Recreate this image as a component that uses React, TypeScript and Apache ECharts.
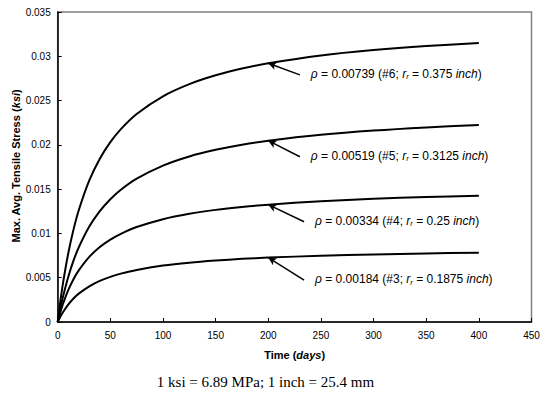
import React, { useEffect, useRef } from "react";
import * as echarts from "echarts";

const days = [0, 2, 5, 10, 15, 20, 30, 40, 50, 60, 75, 100, 125, 150, 175, 200, 250, 300, 350, 400];

const rho6 = [0, 0.00189, 0.00436, 0.00774, 0.01043, 0.01262, 0.01598, 0.01844, 0.02031, 0.02178, 0.02349, 0.02548, 0.02685, 0.02785, 0.02861, 0.02921, 0.03009, 0.0307, 0.03116, 0.0315];
const rho5 = [0, 0.00122, 0.00284, 0.00509, 0.00692, 0.00842, 0.01077, 0.01251, 0.01386, 0.01493, 0.01618, 0.01766, 0.01869, 0.01944, 0.02002, 0.02047, 0.02114, 0.02162, 0.02197, 0.02224];
const rho4 = [0, 0.00088, 0.00203, 0.00359, 0.00483, 0.00583, 0.00735, 0.00846, 0.0093, 0.00996, 0.01072, 0.01161, 0.01222, 0.01266, 0.01299, 0.01325, 0.01364, 0.01391, 0.01411, 0.01426];
const rho3 = [0, 0.00048, 0.00111, 0.00197, 0.00265, 0.0032, 0.00403, 0.00464, 0.0051, 0.00546, 0.00588, 0.00637, 0.0067, 0.00694, 0.00713, 0.00727, 0.00748, 0.00763, 0.00774, 0.00782];

const seriesValues = [rho6, rho5, rho4, rho3];
const rhoLabels = ["0.00739", "0.00519", "0.00334", "0.00184"];
const barLabels = ["#6", "#5", "#4", "#3"];
const radiusLabels = ["0.375", "0.3125", "0.25", "0.1875"];
// arrow tip at day 200 on each curve, tail in data coordinates
const tipDay = 200;
const tipValues = [0.02921, 0.02047, 0.01325, 0.00727];
const tailDays = [230, 230, 234, 234];
const tailValues = [0.0279, 0.01866, 0.01132, 0.00474];

const xTicks = { min: 0, max: 450, interval: 50 };
const yTicks = { min: 0, max: 0.035, interval: 0.005 };

const footer = "1 ksi = 6.89 MPa; 1 inch = 25.4 mm";

export default function App() {
  const ref = useRef<HTMLDivElement>(null);
  useEffect(() => {
    if (!ref.current) return;
    const chart = echarts.init(ref.current, null, { renderer: "svg" });
    const font = "Liberation Sans, Arial, sans-serif";
    const boldRich = {
      b: { fontFamily: font, fontSize: 11, fontWeight: "bold", color: "#000" },
      bi: { fontFamily: font, fontSize: 11, fontWeight: "bold", fontStyle: "italic", color: "#000" },
    };
    const option: any = {
      animation: false,
      backgroundColor: "#ffffff",
      grid: {
        left: 57.7,
        right: 15.5,
        top: 12,
        bottom: 75,
        containLabel: false,
        outerBoundsMode: "none",
        show: true,
        borderColor: "#808080",
        borderWidth: 1.5,
        backgroundColor: "transparent",
      },
      xAxis: {
        type: "value",
        min: xTicks.min,
        max: xTicks.max,
        interval: xTicks.interval,
        axisLine: { show: true, onZero: false, lineStyle: { color: "#000", width: 1.5 } },
        axisTick: { show: true, inside: true, length: 4, lineStyle: { color: "#000", width: 1 } },
        splitLine: { show: false },
        axisLabel: { color: "#000", fontFamily: font, fontSize: 10, margin: 8 },
        name: "{b|Time (}{bi|days}{b|)}",
        nameLocation: "middle",
        nameGap: 27,
        nameTextStyle: { rich: boldRich },
      },
      yAxis: {
        type: "value",
        min: yTicks.min,
        max: yTicks.max,
        interval: yTicks.interval,
        axisLine: { show: true, onZero: false, lineStyle: { color: "#000", width: 1.5 } },
        axisTick: { show: true, inside: true, length: 4, lineStyle: { color: "#000", width: 1 } },
        splitLine: { show: false },
        axisLabel: { color: "#000", fontFamily: font, fontSize: 10, margin: 7 },
      },
      series: seriesValues.map((vals, i) => ({
        type: "line",
        data: days.map((d, j) => [d, vals[j]]),
        smooth: 0.3,
        symbol: "none",
        lineStyle: { color: "#000", width: 2 },
        markLine: {
          silent: true,
          symbol: ["none", "arrow"],
          symbolSize: [6, 8],
          label: { show: false },
          lineStyle: { color: "#000", width: 1.5, type: "solid" },
          data: [
            [
              { coord: [tailDays[i], tailValues[i]] },
              { coord: [tipDay, tipValues[i]] },
            ],
          ],
        },
      })),
    };
    chart.setOption(option);

    const texts: any[] = [];
    for (let i = 0; i < seriesValues.length; i++) {
      const p = chart.convertToPixel({ gridIndex: 0 }, [tailDays[i], tailValues[i]]) as number[];
      texts.push({
        type: "text",
        x: p[0] + 11,
        y: p[1] - 1,
        style: {
          text: `{i|ρ}{n| = ${rhoLabels[i]} (${barLabels[i]}; }{i|r}{s|r}{n| = ${radiusLabels[i]} }{i|inch}{n|)}`,
          verticalAlign: "middle",
          align: "left",
          rich: {
            n: { fontFamily: font, fontSize: 12, color: "#000", lineHeight: 14, verticalAlign: "middle" },
            i: { fontFamily: font, fontSize: 12, fontStyle: "italic", color: "#000", lineHeight: 14, verticalAlign: "middle" },
            s: { fontFamily: font, fontSize: 7.5, fontStyle: "italic", color: "#000", lineHeight: 9, verticalAlign: "bottom" },
          },
        },
      });
    }
    texts.push({
      type: "text",
      x: 15.5,
      y: 166,
      rotation: Math.PI / 2,
      style: {
        text: "{b|Max. Avg. Tensile Stress (}{bi|ksi}{b|)}",
        align: "center",
        verticalAlign: "middle",
        rich: boldRich,
      },
    });
    texts.push({
      type: "text",
      x: 265.5,
      y: 381.5,
      style: {
        text: footer,
        fontFamily: "Liberation Serif, Times New Roman, serif",
        fontSize: 15,
        fill: "#000",
        align: "center",
        verticalAlign: "middle",
      },
    });
    chart.setOption({ graphic: texts });

    return () => chart.dispose();
  }, []);
  return (
    <div
      ref={ref}
      style={{ position: "fixed", left: 0, top: 0, width: 547, height: 397, background: "#fff" }}
    />
  );
}
